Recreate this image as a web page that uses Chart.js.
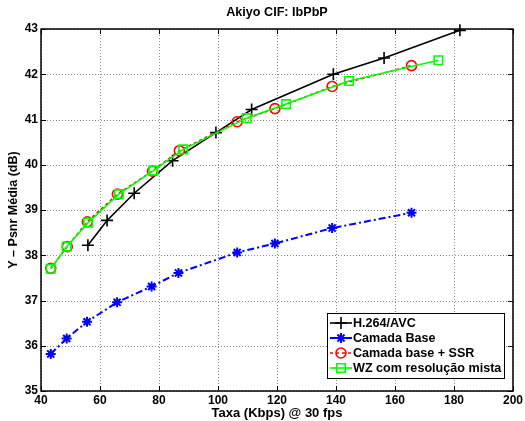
<!DOCTYPE html>
<html><head><meta charset="utf-8">
<script src="https://cdn.jsdelivr.net/npm/chart.js@4/dist/chart.umd.min.js"></script>
<style>html,body{margin:0;padding:0;background:#fff}#wrap{width:525px;height:421px}</style>
</head><body><div id="wrap"><canvas id="c" width="525" height="421"></canvas></div>
<script>
const chartTitle = 'Akiyo CIF: IbPbP';
const xTitle = 'Taxa (Kbps) @ 30 fps';
const yTitle = 'Y \u2013 Psnr Média (dB)';
const seriesNames = ['H.264/AVC', 'Camada Base', 'Camada base + SSR', 'WZ com resolução mista'];
const xTicks = [40, 60, 80, 100, 120, 140, 160, 180, 200];
const yTicks = [35, 36, 37, 38, 39, 40, 41, 42, 43];

const h264X = [55.9, 62.4, 71.6, 84.6, 99.3, 111.4, 139.1, 156.3, 182.0];
const h264Y = [38.22, 38.77, 39.37, 40.09, 40.71, 41.22, 42.00, 42.36, 42.97];
const baseX = [43.3, 48.7, 55.6, 65.8, 77.5, 86.6, 106.5, 119.3, 138.7, 165.6];
const baseY = [35.82, 36.16, 36.53, 36.96, 37.31, 37.61, 38.06, 38.26, 38.60, 38.94];
const ssrX  = [43.3, 48.9, 55.7, 65.9, 77.8, 86.9, 106.5, 119.3, 138.7, 165.6];
const ssrY  = [37.71, 38.19, 38.74, 39.35, 39.86, 40.31, 40.95, 41.24, 41.73, 42.19];
const wzX   = [43.3, 48.7, 56.0, 66.4, 78.1, 88.2, 109.7, 123.1, 144.4, 174.7];
const wzY   = [37.70, 38.19, 38.72, 39.35, 39.87, 40.34, 41.03, 41.34, 41.85, 42.31];

const FONT = 'Liberation Sans, Arial, Helvetica, sans-serif';
const pts = (xs, ys) => xs.map((x, i) => ({x: x, y: ys[i]}));

const styles = [
  {color: '#000000', dash: [], lw: 1.6, marker: 'cross', r: 6, mw: 1.6, order: 3},
  {color: '#0000ff', dash: [7, 3, 2, 3], lw: 2, marker: 'star', r: 5, mw: 2, order: 2},
  {color: '#ff0000', dash: [3, 3], lw: 1.6, marker: 'circle', r: 5, mw: 1.6, order: 1},
  {color: '#00ff00', dash: [], lw: 1.6, marker: 'rect', r: 6, mw: 1.6, order: 0}
];
const seriesData = [pts(h264X, h264Y), pts(baseX, baseY), pts(ssrX, ssrY), pts(wzX, wzY)];

const datasets = seriesData.map((d, i) => ({
  label: seriesNames[i],
  data: d,
  borderColor: styles[i].color,
  borderWidth: styles[i].lw,
  borderDash: styles[i].dash,
  pointStyle: styles[i].marker,
  pointRadius: styles[i].r,
  pointBorderWidth: styles[i].mw,
  pointBorderColor: styles[i].color,
  pointBackgroundColor: 'rgba(0,0,0,0)',
  fill: false,
  tension: 0,
  order: styles[i].order,
  clip: 12
}));

function drawMarker(ctx, type, x, y, r, color, lw) {
  ctx.save();
  ctx.strokeStyle = color; ctx.lineWidth = lw; ctx.setLineDash([]);
  ctx.beginPath();
  if (type === 'cross') {
    ctx.moveTo(x - r, y); ctx.lineTo(x + r, y); ctx.moveTo(x, y - r); ctx.lineTo(x, y + r);
  } else if (type === 'star') {
    ctx.moveTo(x - r, y); ctx.lineTo(x + r, y); ctx.moveTo(x, y - r); ctx.lineTo(x, y + r);
    const d = r * Math.SQRT1_2;
    ctx.moveTo(x - d, y - d); ctx.lineTo(x + d, y + d); ctx.moveTo(x - d, y + d); ctx.lineTo(x + d, y - d);
  } else if (type === 'circle') {
    ctx.arc(x, y, r, 0, Math.PI * 2);
  } else if (type === 'rect') {
    const s = r * Math.SQRT1_2;
    ctx.rect(x - s, y - s, 2 * s, 2 * s);
  }
  ctx.stroke();
  ctx.restore();
}

const framePlugin = {
  id: 'frame',
  beforeDatasetsDraw(chart) {
    const ctx = chart.ctx, a = chart.chartArea;
    const xs = chart.scales.x, ys = chart.scales.y;
    ctx.save();
    ctx.strokeStyle = '#8c8c8c'; ctx.lineWidth = 1; ctx.setLineDash([1, 2]);
    ctx.beginPath();
    xTicks.forEach(v => {
      const px = Math.round(xs.getPixelForValue(v)) + 0.5;
      ctx.moveTo(px, a.top); ctx.lineTo(px, a.bottom);
    });
    yTicks.forEach(v => {
      const py = Math.round(ys.getPixelForValue(v)) + 0.5;
      ctx.moveTo(a.left, py); ctx.lineTo(a.right, py);
    });
    ctx.stroke();
    ctx.restore();
  },
  afterDraw(chart) {
    const ctx = chart.ctx, a = chart.chartArea;
    const xs = chart.scales.x, ys = chart.scales.y;
    ctx.save();
    ctx.strokeStyle = '#000'; ctx.lineWidth = 1.5; ctx.setLineDash([]);
    ctx.strokeRect(a.left, a.top, a.right - a.left, a.bottom - a.top);
    ctx.lineWidth = 1;
    ctx.beginPath();
    const tl = 5;
    xTicks.forEach(v => {
      const px = Math.round(xs.getPixelForValue(v)) + 0.5;
      ctx.moveTo(px, a.bottom); ctx.lineTo(px, a.bottom - tl);
      ctx.moveTo(px, a.top); ctx.lineTo(px, a.top + tl);
    });
    yTicks.forEach(v => {
      const py = Math.round(ys.getPixelForValue(v)) + 0.5;
      ctx.moveTo(a.left, py); ctx.lineTo(a.left + tl, py);
      ctx.moveTo(a.right, py); ctx.lineTo(a.right - tl, py);
    });
    ctx.stroke();
    ctx.fillStyle = '#000';
    ctx.font = 'bold 12.6px ' + FONT;
    ctx.textAlign = 'center'; ctx.textBaseline = 'middle';
    ctx.fillText(chartTitle, (a.left + a.right) / 2, 13);
    const lx = 327, ly = 313, lw = 177, lh = 65;
    ctx.fillStyle = '#fff';
    ctx.fillRect(lx, ly, lw, lh);
    ctx.strokeStyle = '#000'; ctx.lineWidth = 1;
    ctx.strokeRect(lx + 0.5, ly + 0.5, lw, lh);
    const rows = [323, 338, 353, 368];
    seriesNames.forEach((name, i) => {
      const st = styles[i], yy = rows[i];
      ctx.save();
      ctx.strokeStyle = st.color; ctx.lineWidth = st.lw; ctx.setLineDash(st.dash);
      ctx.beginPath(); ctx.moveTo(330, yy); ctx.lineTo(352, yy); ctx.stroke();
      ctx.restore();
      drawMarker(ctx, st.marker, 341, yy, st.r, st.color, st.mw);
      ctx.fillStyle = '#000';
      ctx.font = 'bold 12.6px ' + FONT;
      ctx.textAlign = 'left'; ctx.textBaseline = 'middle';
      ctx.fillText(name, 353, yy + 0.5);
    });
    ctx.restore();
  }
};

new Chart(document.getElementById('c'), {
  type: 'line',
  data: {datasets: datasets},
  options: {
    responsive: false,
    animation: false,
    devicePixelRatio: 1,
    layout: {padding: {left: 0, right: 12, top: 29, bottom: 0}},
    plugins: {legend: {display: false}, tooltip: {enabled: false}, title: {display: false}},
    scales: {
      x: {
        type: 'linear', min: 40, max: 200,
        afterBuildTicks: s => { s.ticks = xTicks.map(v => ({value: v})); },
        afterFit: s => { s.height = 30; },
        ticks: {color: '#000', font: {family: FONT, size: 12, weight: 'bold'}, padding: 2, maxRotation: 0, autoSkip: false},
        grid: {display: false, drawTicks: false},
        border: {display: false},
        title: {display: true, text: xTitle, color: '#000', font: {family: FONT, size: 13, weight: 'bold'}, padding: {top: 0, bottom: 0}}
      },
      y: {
        type: 'linear', min: 35, max: 43,
        afterBuildTicks: s => { s.ticks = yTicks.map(v => ({value: v})); },
        afterFit: s => { s.width = 41; },
        ticks: {color: '#000', font: {family: FONT, size: 12, weight: 'bold'}, padding: 3, autoSkip: false},
        grid: {display: false, drawTicks: false},
        border: {display: false},
        title: {display: true, text: yTitle, color: '#000', font: {family: FONT, size: 12.5, weight: 'bold'}, padding: {top: 6, bottom: 0}}
      }
    }
  },
  plugins: [framePlugin]
});
</script></body></html>
